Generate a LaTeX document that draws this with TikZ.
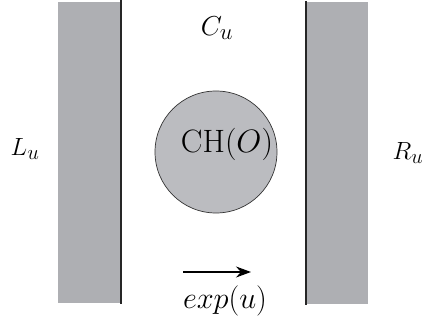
\documentclass[tikz,border=0pt]{standalone}
\usetikzlibrary{arrows.meta}
\definecolor{slab}{RGB}{174,175,179}
\definecolor{disk}{RGB}{187,188,192}
\tikzset{
  slabbox/.style={fill=slab, draw=none},
  wall/.style={draw=black!85, line width=1.4pt},
  lbl/.style={inner sep=0pt, font=\Huge},
}
\begin{document}
\begin{tikzpicture}[x=1pt,y=-1pt]
\useasboundingbox (0,0) rectangle (429,320);
% slabs
\fill[slabbox] (58,2) rectangle (120,303);
\fill[slabbox] (307,2) rectangle (368,304);
\coordinate (lt) at (121,0);
\coordinate (lb) at (121,304);
\coordinate (rt) at (306,1);
\coordinate (rb) at (306,305);
\draw[wall] (lt) -- (lb);
\draw[wall] (rt) -- (rb);
% circle
\node[circle, draw=black!80, fill=disk, line width=0.7pt, minimum size=122pt, inner sep=0pt] (ch) at (216,152) {};
\node[lbl, scale=1.3] (chl) at (227,144) {CH$(O)$};
\node[lbl] (L) at (25,149) {$L_u$};
\node[lbl] (R) at (408,153) {$R_u$};
\node[lbl, scale=1.1] (C) at (217,28) {$C_u$};
\node[lbl, scale=1.22] (e) at (225,301) {$exp(u)$};
\coordinate (a1) at (183,272);
\coordinate (a2) at (251,272);
\draw[-{Stealth[length=15pt,width=11pt]}, line width=1.1pt] (a1) -- (a2);
\end{tikzpicture}
\end{document}
